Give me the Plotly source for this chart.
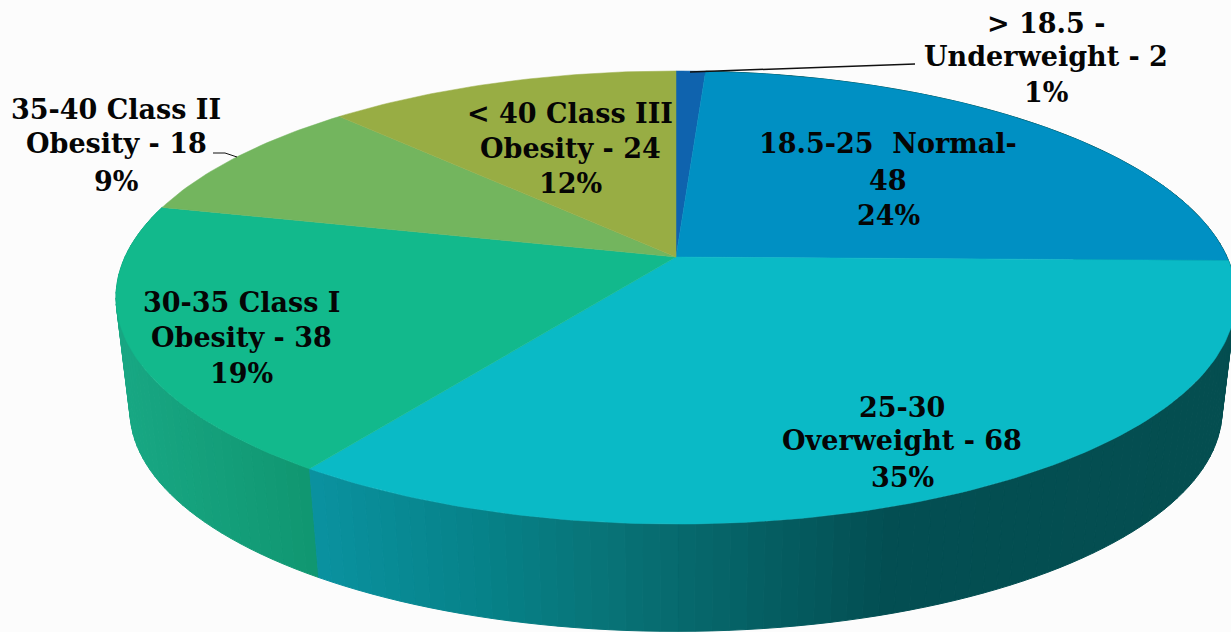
import math
import plotly.graph_objects as go

# --- data ---
categories = ["Underweight", "Normal", "Overweight", "Class I Obesity", "Class II Obesity", "Class III Obesity"]
values = [2, 48, 68, 38, 18, 24]
top_colors = ["#0F63AE", "#0090C3", "#0ABAC6", "#12B98C", "#73B55E", "#98AD44"]

label_lines = [
    ["> 18.5 -", "Underweight - 2", "1%"],
    ["18.5-25  Normal-", "48", "24%"],
    ["25-30", "Overweight - 68", "35%"],
    ["30-35 Class I", "Obesity - 38", "19%"],
    ["35-40 Class II", "Obesity - 18", "9%"],
    ["< 40 Class III", "Obesity - 24", "12%"],
]
label_x = [1046, 888, 902, 241, 116, 570]
label_y = [[23, 56, 92], [143, 180, 215], [407, 440, 477], [302, 337, 373], [109, 143, 181], [113, 148, 183]]

# --- projection of the tilted pie disc into the page ---
CX, CY = 676, 257
R, K, P = 551, 219.3, 0.1788
WALL_SCALE, WALL_DROP = 0.975, 114
FONT = "DejaVu Serif"


def top_pt(theta):
    w = 1 + P * math.cos(theta)
    return CX + R * math.sin(theta) / w, CY - K * math.cos(theta) / w


def wall_pt(theta):
    x, y = top_pt(theta)
    return CX + WALL_SCALE * (x - CX), CY + WALL_DROP + WALL_SCALE * (y - CY)


def lerp_color(stops, x):
    if x <= stops[0][0]:
        return stops[0][1]
    for (x0, c0), (x1, c1) in zip(stops, stops[1:]):
        if x <= x1:
            t = (x - x0) / (x1 - x0)
            return tuple(round(a + (b - a) * t) for a, b in zip(c0, c1))
    return stops[-1][1]


wall_stops = {
    2: [(312, (10, 146, 160)), (500, (6, 128, 134)), (600, (8, 116, 120)), (750, (5, 96, 100)), (890, (3, 78, 82)), (1231, (4, 78, 80))],
    3: [(115, (24, 168, 132)), (320, (16, 150, 112))],
    1: [(1150, (4, 78, 80)), (1231, (4, 70, 74))],
}

total = sum(values)
angles = [0.0]
for v in values:
    angles.append(angles[-1] + v / total * 2 * math.pi)

fig = go.Figure()

# side wall, split into narrow bands that follow the slice angles
for i in (1, 3, 2):
    a0, a1 = angles[i], angles[i + 1]
    n = max(4, int((a1 - a0) / math.radians(1.5)))
    for k in range(n):
        t0 = a0 + (a1 - a0) * k / n
        t1 = a0 + (a1 - a0) * (k + 1) / n
        xs, ys = zip(top_pt(t0), top_pt(t1), wall_pt(t1), wall_pt(t0), top_pt(t0))
        r, g, b = lerp_color(wall_stops[i], sum(xs[:4]) / 4)
        c = f"rgb({r},{g},{b})"
        fig.add_trace(go.Scatter(x=xs, y=ys, mode="lines", fill="toself", fillcolor=c,
                                 line=dict(color=c, width=1), hoverinfo="skip", showlegend=False))

# top faces
for i, name in enumerate(categories):
    a0, a1 = angles[i], angles[i + 1]
    n = max(6, int((a1 - a0) / math.radians(1)))
    pts = [(CX, CY)] + [top_pt(a0 + (a1 - a0) * k / n) for k in range(n + 1)] + [(CX, CY)]
    fig.add_trace(go.Scatter(x=[p[0] for p in pts], y=[p[1] for p in pts], mode="lines", fill="toself",
                             fillcolor=top_colors[i], line=dict(color=top_colors[i], width=0.5),
                             name=name, showlegend=False))

annotations = []
for lines, lx, lys in zip(label_lines, label_x, label_y):
    for text, ly in zip(lines, lys):
        annotations.append(dict(x=lx, y=ly, text=text, showarrow=False, xanchor="center", yanchor="middle",
                                font=dict(family=FONT, size=27, color="#050505", weight="bold")))

leaders = [
    dict(type="line", x0=690, y0=72, x1=915, y1=64, line=dict(color="#111111", width=1.5)),
    dict(type="line", x0=213, y0=153, x1=225, y1=153, line=dict(color="#111111", width=1)),
    dict(type="line", x0=225, y0=153, x1=237, y1=157, line=dict(color="#111111", width=1)),
]

fig.update_layout(
    width=1231, height=632, margin=dict(l=0, r=0, t=0, b=0),
    paper_bgcolor="#FCFCFC", plot_bgcolor="#FCFCFC", showlegend=False,
    xaxis=dict(range=[0, 1231], visible=False, fixedrange=True),
    yaxis=dict(range=[632, 0], visible=False, fixedrange=True),
    annotations=annotations, shapes=leaders,
)
fig.write_html(
    "out.html", config={"displayModeBar": False},
    post_script="document.body.style.margin='0';document.documentElement.style.overflow='hidden';document.body.style.background='#FCFCFC';",
)
